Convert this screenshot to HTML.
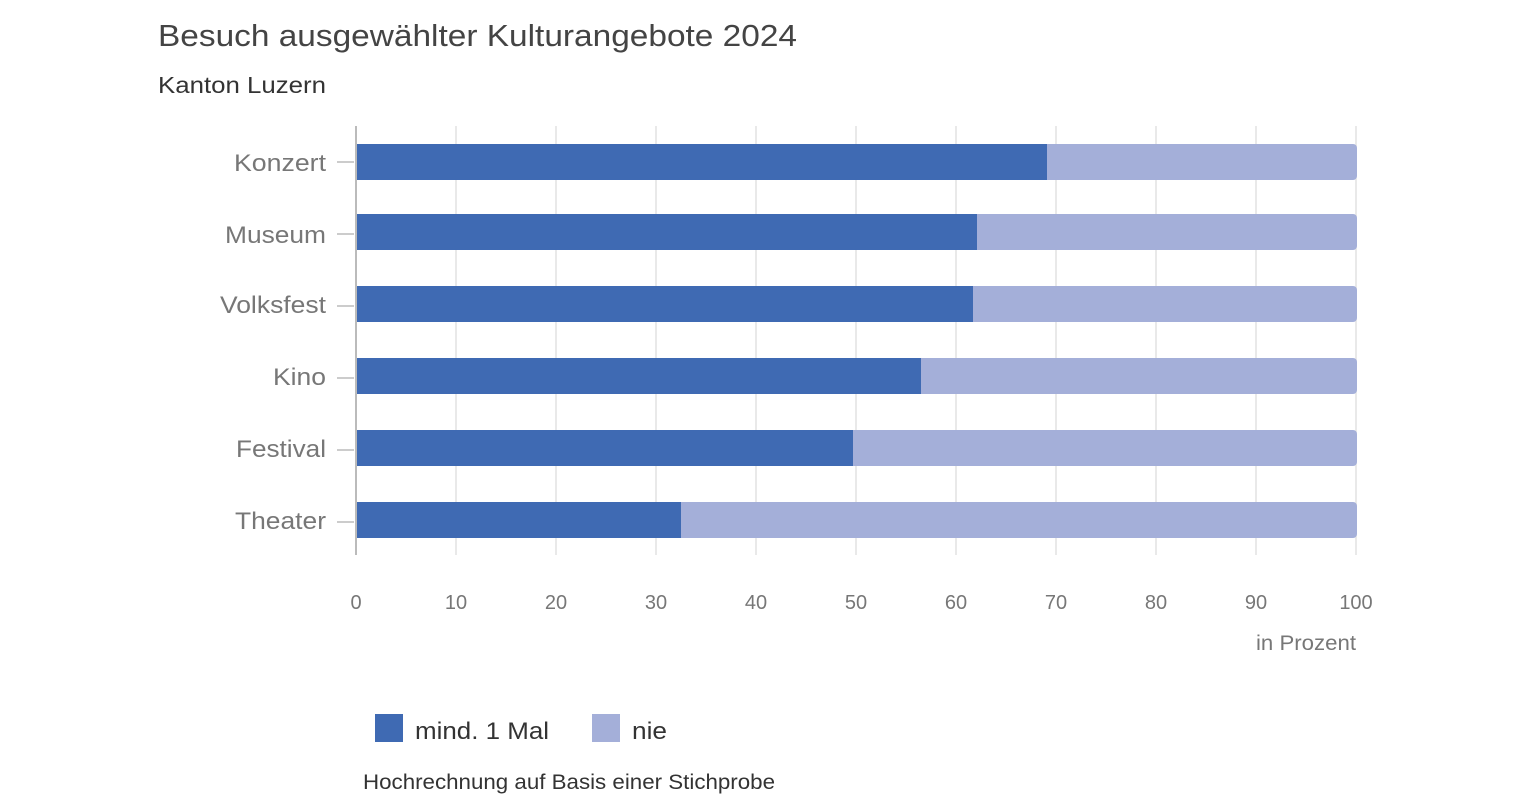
<!DOCTYPE html>
<html><head><meta charset="utf-8"><style>
html,body{margin:0;padding:0;background:#fff;width:1536px;height:807px;overflow:hidden;font-family:"Liberation Sans",sans-serif;}
</style></head><body>
<svg width="1536" height="807" xmlns="http://www.w3.org/2000/svg" font-family="Liberation Sans, sans-serif">
<text x="158" y="46" font-size="31" fill="#444" textLength="639" lengthAdjust="spacingAndGlyphs">Besuch ausgewählter Kulturangebote 2024</text>
<text x="158" y="93" font-size="23" fill="#333" textLength="168" lengthAdjust="spacingAndGlyphs">Kanton Luzern</text>
<g stroke="#e2e2e2" stroke-width="1.5">
<line x1="456" y1="126" x2="456" y2="555"/><line x1="556" y1="126" x2="556" y2="555"/>
<line x1="656" y1="126" x2="656" y2="555"/><line x1="756" y1="126" x2="756" y2="555"/>
<line x1="856" y1="126" x2="856" y2="555"/><line x1="956" y1="126" x2="956" y2="555"/>
<line x1="1056" y1="126" x2="1056" y2="555"/><line x1="1156" y1="126" x2="1156" y2="555"/>
<line x1="1256" y1="126" x2="1256" y2="555"/><line x1="1356" y1="126" x2="1356" y2="555"/>
</g>
<line x1="356" y1="126" x2="356" y2="555" stroke="#bbb" stroke-width="2"/>
<g stroke="#bbb" stroke-width="1.5">
<line x1="337" y1="162" x2="354" y2="162"/><line x1="337" y1="234" x2="354" y2="234"/>
<line x1="337" y1="306" x2="354" y2="306"/><line x1="337" y1="378" x2="354" y2="378"/>
<line x1="337" y1="450" x2="354" y2="450"/><line x1="337" y1="522" x2="354" y2="522"/>
</g>
<g>
<rect x="357" y="144" width="1000" height="36" rx="4" fill="#a4afd9"/><rect x="357" y="144" width="690" height="36" fill="#3f6ab3"/>
<rect x="357" y="214" width="1000" height="36" rx="4" fill="#a4afd9"/><rect x="357" y="214" width="620" height="36" fill="#3f6ab3"/>
<rect x="357" y="286" width="1000" height="36" rx="4" fill="#a4afd9"/><rect x="357" y="286" width="616" height="36" fill="#3f6ab3"/>
<rect x="357" y="358" width="1000" height="36" rx="4" fill="#a4afd9"/><rect x="357" y="358" width="564" height="36" fill="#3f6ab3"/>
<rect x="357" y="430" width="1000" height="36" rx="4" fill="#a4afd9"/><rect x="357" y="430" width="496" height="36" fill="#3f6ab3"/>
<rect x="357" y="502" width="1000" height="36" rx="4" fill="#a4afd9"/><rect x="357" y="502" width="324" height="36" fill="#3f6ab3"/>
</g>
<g font-size="24" fill="#777" lengthAdjust="spacingAndGlyphs">
<text x="234" y="171" textLength="92" lengthAdjust="spacingAndGlyphs">Konzert</text>
<text x="225" y="243" textLength="101" lengthAdjust="spacingAndGlyphs">Museum</text>
<text x="220" y="313" textLength="106" lengthAdjust="spacingAndGlyphs">Volksfest</text>
<text x="273" y="385" textLength="53" lengthAdjust="spacingAndGlyphs">Kino</text>
<text x="236" y="457" textLength="90" lengthAdjust="spacingAndGlyphs">Festival</text>
<text x="235" y="529" textLength="91" lengthAdjust="spacingAndGlyphs">Theater</text>
</g>
<g font-size="20" fill="#777" text-anchor="middle">
<text x="356" y="609">0</text><text x="456" y="609">10</text><text x="556" y="609">20</text><text x="656" y="609">30</text>
<text x="756" y="609">40</text><text x="856" y="609">50</text><text x="956" y="609">60</text><text x="1056" y="609">70</text>
<text x="1156" y="609">80</text><text x="1256" y="609">90</text><text x="1356" y="609">100</text>
</g>
<text x="1256" y="650" font-size="21" fill="#777" textLength="100" lengthAdjust="spacingAndGlyphs">in Prozent</text>
<rect x="375" y="714" width="28" height="28" fill="#3f6ab3"/>
<text x="415" y="739" font-size="24" fill="#333" textLength="134" lengthAdjust="spacingAndGlyphs">mind. 1 Mal</text>
<rect x="592" y="714" width="28" height="28" fill="#a4afd9"/>
<text x="632" y="739" font-size="24" fill="#333" textLength="35" lengthAdjust="spacingAndGlyphs">nie</text>
<text x="363" y="789" font-size="21" fill="#333" textLength="412" lengthAdjust="spacingAndGlyphs">Hochrechnung auf Basis einer Stichprobe</text>
</svg>
</body></html>
